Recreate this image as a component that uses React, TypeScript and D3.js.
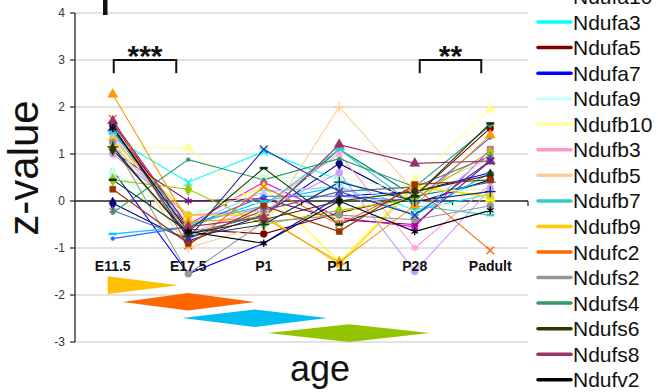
import React from "react";
import * as d3 from "d3";

const categories = ["E11.5", "E17.5", "P1", "P11", "P28", "Padult"];

const genes = [
  "Ndufa1", "Ndufa10", "Ndufa2", "Ndufa3", "Ndufa4", "Ndufa5", "Ndufa6", "Ndufa7",
  "Ndufa8", "Ndufa9", "Ndufab1", "Ndufb10", "Ndufb2", "Ndufb3", "Ndufb4", "Ndufb5",
  "Ndufb6", "Ndufb7", "Ndufb8", "Ndufb9", "Ndufc1", "Ndufc2", "Ndufs1", "Ndufs2",
  "Ndufs3", "Ndufs4", "Ndufs5", "Ndufs6", "Ndufs7", "Ndufs8", "Ndufv1", "Ndufv2",
];

// excel 2003 default series colours
const colors = [
  "#000080", "#FF00FF", "#FFFF00", "#00FFFF", "#800080", "#800000", "#008080", "#0000FF",
  "#00CCFF", "#CCFFFF", "#CCFFCC", "#FFFF99", "#99CCFF", "#FF99CC", "#CC99FF", "#FFCC99",
  "#3366FF", "#33CCCC", "#99CC00", "#FFCC00", "#FF9900", "#FF6600", "#666699", "#969696",
  "#003366", "#339966", "#003300", "#333300", "#993300", "#993366", "#333399", "#000000",
];

// z-values per gene: E11.5, E17.5, P1, P11, P28, Padult
const zValues = [
  [-0.05, -0.85, -0.3, 0.8, -0.05, 0.45],
  [1.55, -0.5, 0.4, -0.35, -0.55, 1.1],
  [1.2, -0.35, 0.3, -1.3, 0.35, 0.05],
  [1.35, 0.4, 1.05, 0.45, -0.2, 0.15],
  [1.05, 0.0, 0.05, -0.4, -0.5, 0.85],
  [1.65, -0.6, -0.7, -0.25, 0.1, 1.55],
  [1.5, -0.7, -0.3, 1.1, 0.1, 0.4],
  [0.65, -1.55, -0.9, 0.1, 0.2, 0.6],
  [-0.7, -0.55, 0.0, 0.3, -0.3, 0.6],
  [0.6, -0.3, 0.2, 0.3, 0.0, -0.2],
  [0.55, -0.4, 0.5, 0.5, 0.2, 0.25],
  [1.15, 1.13, -0.2, -0.35, 0.45, 1.95],
  [1.2, -0.5, 0.2, 0.3, -0.3, 1.0],
  [1.4, -0.7, -0.1, 1.0, -1.0, 0.35],
  [1.0, -0.3, -0.2, 0.6, -1.5, 0.25],
  [1.3, -1.0, -0.5, 2.0, 0.2, 0.9],
  [-0.8, -0.55, 0.1, 0.1, 0.0, 1.35],
  [1.45, -0.5, -0.1, 1.1, -0.1, -0.3],
  [0.45, 0.25, -0.5, -0.2, 0.05, 1.05],
  [1.3, -0.3, -0.3, -1.35, 0.3, 0.1],
  [2.27, -0.45, -0.35, -1.3, -0.1, 1.4],
  [1.75, -0.95, 0.3, -0.5, 0.3, -1.05],
  [-0.2, -0.8, -0.2, 0.2, 0.3, 0.95],
  [1.25, -1.55, -0.45, -0.3, -0.4, -0.1],
  [1.15, -0.75, -0.5, 0.4, 0.0, 0.2],
  [-0.25, 0.88, 0.45, 0.9, 0.3, 1.6],
  [0.45, -0.65, 0.7, -0.5, 0.1, 1.65],
  [1.1, -0.7, -0.4, 0.0, 0.2, 0.55],
  [0.25, -0.9, -0.1, -0.65, 0.35, 0.45],
  [1.7, -0.55, -0.35, 1.2, 0.8, 0.85],
  [1.6, -0.8, 1.1, 0.2, -0.3, 0.85],
  [1.55, -0.65, -0.9, 0.0, -0.65, -0.2],
];

const yTicks = [-3, -2, -1, 0, 1, 2, 3, 4];

const W = 658;
const H = 392;
const font = "Arial, 'Liberation Sans', sans-serif";

const markerKinds = ["diamond", "square", "triangle", "x", "star", "circle", "plus", "dot", "dash"];

const symbolPath = (kind: string) => {
  switch (kind) {
    case "diamond": return d3.symbol(d3.symbolDiamond, 46)();
    case "square": return d3.symbol(d3.symbolSquare, 36)();
    case "triangle": return d3.symbol(d3.symbolTriangle, 44)();
    case "x": return d3.symbol(d3.symbolX, 40)();
    case "star": return d3.symbol(d3.symbolAsterisk, 40)();
    case "circle": return d3.symbol(d3.symbolCircle, 38)();
    case "plus": return d3.symbol(d3.symbolPlus, 40)();
    case "dot": return d3.symbol(d3.symbolCircle, 12)();
    default: return "M-4,0H4";
  }
};
const stroked = (kind: string) => ["x", "star", "plus", "dash"].includes(kind);

export default function App() {
  const x = d3.scaleBand().domain(categories).range([75, 528]);
  const y = d3.scaleLinear().domain([-3, 4]).range([342, 13]);
  const cx = (i: number) => (x(categories[i]) as number) + x.bandwidth() / 2;

  const line = d3
    .line<number>()
    .x((_, i) => cx(i))
    .y((v) => y(v));

  const poly = (pts: [number, number][]) =>
    "M" + pts.map((p) => `${p[0]},${y(p[1])}`).join("L") + "Z";

  const bracket = (x1: number, x2: number) =>
    `M${x1},${y(2.72)}V${y(3)}H${x2}V${y(2.72)}`;

  const legendIdx = genes.map((_, i) => i).filter((i) => i % 2 === 1);

  return (
    <svg
      width={W}
      height={H}
      style={{ position: "absolute", left: 0, top: 0, background: "#fff" }}
    >
      {/* gridlines */}
      {yTicks.filter((t) => t !== 0).map((t) => (
        <line key={t} x1={75} x2={528} y1={y(t)} y2={y(t)} stroke="#d9d9d9" strokeWidth={1.3} />
      ))}
      {/* y axis */}
      <line x1={75} x2={75} y1={y(4)} y2={y(-3)} stroke="#222" strokeWidth={1.3} />
      {yTicks.map((t) => (
        <g key={t}>
          <line x1={70} x2={75} y1={y(t)} y2={y(t)} stroke="#222" strokeWidth={1.2} />
          <text x={65} y={y(t) + 4} textAnchor="end" fontSize={12} fontFamily={font} fill="#333">
            {t}
          </text>
        </g>
      ))}
      {/* x axis at zero */}
      <line x1={75} x2={528} y1={y(0)} y2={y(0)} stroke="#222" strokeWidth={1.3} />
      {categories.map((c) => (
        <line key={c} x1={(x(c) as number) + x.bandwidth()} x2={(x(c) as number) + x.bandwidth()}
          y1={y(0)} y2={y(0) + 5} stroke="#222" strokeWidth={1.2} />
      ))}

      {/* series */}
      {zValues.map((vals, s) => (
        <path key={genes[s]} d={line(vals) as string} fill="none" stroke={colors[s]} strokeWidth={1.1} />
      ))}
      {zValues.map((vals, s) => {
        const kind = markerKinds[s % markerKinds.length];
        const d = symbolPath(kind) as string;
        return (
          <g key={"m" + genes[s]}>
            {vals.map((v, i) => (
              <path
                key={i}
                d={d}
                transform={`translate(${cx(i)},${y(v)})`}
                fill={stroked(kind) ? "none" : colors[s]}
                stroke={colors[s]}
                strokeWidth={stroked(kind) ? (kind === "dash" ? 2.5 : 1.3) : 0.5}
              />
            ))}
          </g>
        );
      })}

      {/* category labels */}
      {categories.map((c, i) => (
        <text key={c} x={cx(i)} y={271} textAnchor="middle" fontSize={14} fontWeight="bold"
          fontFamily={font} fill="#111">
          {c}
        </text>
      ))}

      {/* stage shapes */}
      <path d={poly([[cx(0) - 5, -1.6], [cx(1) - 10, -1.79], [cx(0) - 5, -1.98]])} fill="#FFC000" />
      <path d={poly([[cx(0) + 10, -2.15], [cx(1), -1.96], [cx(2) - 9, -2.15], [cx(1), -2.33]])} fill="#FF6600" />
      <path d={poly([[cx(1) - 6, -2.49], [cx(2) - 9, -2.31], [cx(3) - 12, -2.49], [cx(2) - 9, -2.68]])} fill="#00BEF2" />
      <path d={poly([[cx(2) + 4, -2.81], [cx(3) + 10, -2.62], [cx(4) + 15, -2.81], [cx(3) + 10, -3.0]])} fill="#92C400" />

      {/* significance brackets */}
      <path d={bracket(cx(0) + 1, cx(1) - 12)} fill="none" stroke="#111" strokeWidth={2} />
      <text x={(cx(0) + cx(1) - 11) / 2} y={66} textAnchor="middle" fontSize={30} fontWeight="bold"
        fontFamily={font} fill="#111">***</text>
      <path d={bracket(cx(4) + 5, cx(5) - 9)} fill="none" stroke="#111" strokeWidth={2} />
      <text x={(cx(4) + cx(5) - 4) / 2} y={66} textAnchor="middle" fontSize={30} fontWeight="bold"
        fontFamily={font} fill="#111">**</text>

      {/* cropped title glyph */}
      <rect x={103} y={0} width={4.5} height={15} fill="#111" />

      {/* axis titles */}
      <text transform={`translate(38,168) rotate(-90)`} textAnchor="middle" fontSize={42}
        fontFamily={font} fill="#111">z-value</text>
      <text x={320} y={381} textAnchor="middle" fontSize={36} fontFamily={font} fill="#111">age</text>

      {/* legend (right column) */}
      {legendIdx.map((s, k) => {
        const ly = -3.5 + k * 25.55;
        return (
          <g key={"l" + genes[s]}>
            <line x1={538} x2={571} y1={ly} y2={ly} stroke={colors[s]} strokeWidth={3.5} strokeLinecap="round" />
            <text x={573} y={ly + 7.5} fontSize={21} fontFamily={font} fill="#111">{genes[s]}</text>
          </g>
        );
      })}
    </svg>
  );
}
